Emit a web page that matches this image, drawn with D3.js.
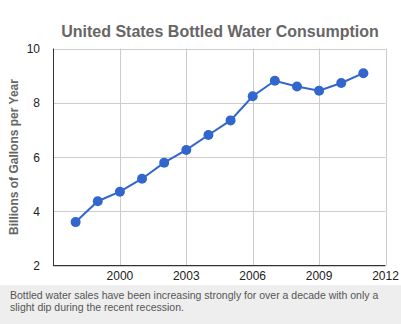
<!DOCTYPE html>
<html><head><meta charset="utf-8">
<script src="https://cdn.jsdelivr.net/npm/d3@7/dist/d3.min.js"></script>
<style>
html,body{margin:0;padding:0;background:#fff;}
svg{display:block;font-family:"Liberation Sans",Arial,sans-serif;}
</style></head><body>
<svg id="c" width="401" height="324"></svg>
<script>
const years = [1998,1999,2000,2001,2002,2003,2004,2005,2006,2007,2008,2009,2010,2011];
const consumption = [3.60,4.37,4.72,5.20,5.79,6.26,6.81,7.35,8.24,8.81,8.60,8.44,8.73,9.09];
const xTicks = [2000,2003,2006,2009,2012];
const yTicks = [2,4,6,8,10];
const title = "United States Bottled Water Consumption";
const yLabel = "Billions of Gallons per Year";
const caption = ["Bottled water sales have been increasing strongly for over a decade with only a",
                 "slight dip during the recent recession."];

const svg = d3.select("#c");
const L=53.5, R=385.5, T=48.5, B=265.5;
const x = d3.scaleLinear().domain([1997,2012]).range([L,R]);
const y = d3.scaleLinear().domain([2,10]).range([B,T]);

// gridlines
svg.append("g").selectAll("line").data(xTicks).join("line")
  .attr("x1",d=>Math.round(x(d))+0.5).attr("x2",d=>Math.round(x(d))+0.5)
  .attr("y1",T).attr("y2",B).attr("stroke","#cccccc").attr("stroke-width",1);
svg.append("g").selectAll("line").data(yTicks).join("line")
  .attr("x1",L).attr("x2",R)
  .attr("y1",d=>Math.round(y(d))+0.5).attr("y2",d=>Math.round(y(d))+0.5)
  .attr("stroke","#cccccc").attr("stroke-width",1);

// axes lines
svg.append("line").attr("x1",L).attr("x2",L).attr("y1",T).attr("y2",B+0.5).attr("stroke","#333").attr("stroke-width",1);
svg.append("line").attr("x1",L).attr("x2",R).attr("y1",B).attr("y2",B).attr("stroke","#333").attr("stroke-width",1);

// tick labels
svg.append("g").selectAll("text").data(yTicks).join("text")
  .attr("x",40).attr("y",d=>y(d)+4.5).attr("text-anchor","end")
  .attr("font-size",12).attr("fill","#222").text(d=>d);
svg.append("g").selectAll("text").data(xTicks).join("text")
  .attr("x",d=>x(d)).attr("y",280).attr("text-anchor","middle")
  .attr("font-size",12).attr("fill","#222").text(d=>d);

// title
svg.append("text").attr("x",220).attr("y",36.5).attr("text-anchor","middle")
  .attr("font-size",16).attr("font-weight","bold").attr("fill","#666").text(title);

// y label
svg.append("text").attr("transform",`translate(17.5,${(T+B)/2}) rotate(-90)`)
  .attr("text-anchor","middle").attr("font-size",12).attr("font-weight","bold")
  .attr("fill","#666").text(yLabel);

// line and points
const line = d3.line().x((d,i)=>x(years[i])).y(d=>y(d));
svg.append("path").datum(consumption).attr("d",line)
  .attr("fill","none").attr("stroke","#3366cc").attr("stroke-width",2);
svg.append("g").selectAll("circle").data(consumption).join("circle")
  .attr("cx",(d,i)=>x(years[i])).attr("cy",d=>y(d)).attr("r",5).attr("fill","#3366cc");

// caption
svg.append("rect").attr("x",0).attr("y",285).attr("width",401).attr("height",39).attr("fill","#eeeeee");
svg.append("g").selectAll("text").data(caption).join("text")
  .attr("x",10).attr("y",(d,i)=>299+i*12).attr("font-size",10.5).attr("fill","#555").text(d=>d);
</script>
</body></html>
